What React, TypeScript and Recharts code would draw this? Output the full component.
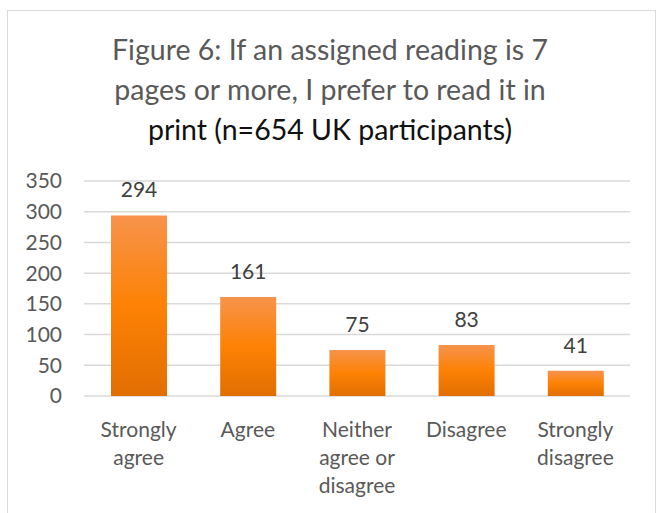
import { BarChart, Bar, XAxis, YAxis, CartesianGrid, LabelList } from "recharts";

const categories = ["Strongly agree", "Agree", "Neither agree or disagree", "Disagree", "Strongly disagree"];
const responses = [294, 161, 75, 83, 41];
const yTicks = [0, 50, 100, 150, 200, 250, 300, 350];
const titleLines = ["Figure 6: If an assigned reading is 7", "pages or more, I prefer to read it in", "print (n=654 UK participants)"];

const data = categories.map((name, i) => ({ name, value: responses[i] }));

const FONT = "Lato, 'Open Sans', sans-serif";

// greedy word wrap, Excel style narrow category labels
const wrapWords = (label: string, maxChars: number) => {
  const lines: string[] = [];
  let current = "";
  label.split(" ").forEach((word) => {
    const next = current ? `${current} ${word}` : word;
    if (next.length > maxChars && current) {
      lines.push(current);
      current = word;
    } else {
      current = next;
    }
  });
  if (current) lines.push(current);
  return lines;
};

const CategoryTick = (props: { x?: number; y?: number; payload?: { value: string } }) => {
  const { x, y, payload } = props;
  if (!payload) return null;
  const lines = wrapWords(payload.value, 9);
  return (
    <text x={x} y={y} textAnchor="middle" fill="#595959" fontSize={21} fontFamily={FONT}>
      {lines.map((line, i) => (
        <tspan key={i} x={x} dy={i === 0 ? 15 : 28}>
          {line}
        </tspan>
      ))}
    </text>
  );
};

export default function App() {
  return (
    <div style={{ position: "absolute", left: 0, top: 0, width: 660, height: 513, background: "#fff", overflow: "hidden" }}>
      <div
        style={{
          position: "absolute",
          left: 7,
          top: 10,
          width: 649,
          height: 520,
          border: "1px solid #d9d9d9",
          boxSizing: "border-box",
        }}
      />
      <div
        style={{
          position: "absolute",
          left: 0,
          top: 29,
          width: 660,
          textAlign: "center",
          fontFamily: FONT,
          fontSize: 28.5,
          lineHeight: "40px",
        }}
      >
        {titleLines.map((line, i) => (
          <div key={i} style={{ color: i === titleLines.length - 1 ? "#111" : "#595959" }}>
            {line}
          </div>
        ))}
      </div>
      <div style={{ position: "absolute", left: 0, top: 0 }}>
        <BarChart width={660} height={513} data={data} margin={{ top: 181, right: 30, bottom: 7, left: 0 }}>
          <defs>
            <linearGradient id="barFill" x1="0" y1="0" x2="0" y2="1">
              <stop offset="0%" stopColor="#F7934C" />
              <stop offset="50%" stopColor="#FD8204" />
              <stop offset="100%" stopColor="#E26E02" />
            </linearGradient>
          </defs>
          <CartesianGrid vertical={false} stroke="#d9d9d9" strokeWidth={1.5} />
          <XAxis
            dataKey="name"
            axisLine={false}
            tickLine={false}
            tickSize={0}
            tickMargin={26}
            height={110}
            interval={0}
            tick={CategoryTick}
          />
          <YAxis
            domain={[0, 350]}
            ticks={yTicks}
            axisLine={false}
            tickLine={false}
            tickSize={0}
            tickMargin={22}
            width={84}
            tick={{ fill: "#595959", fontSize: 21, fontFamily: FONT }}
          />
          <Bar dataKey="value" fill="url(#barFill)" barSize={56} isAnimationActive={false}>
            <LabelList dataKey="value" position="top" offset={18} fill="#404040" fontSize={21} fontFamily={FONT} />
          </Bar>
        </BarChart>
      </div>
    </div>
  );
}
